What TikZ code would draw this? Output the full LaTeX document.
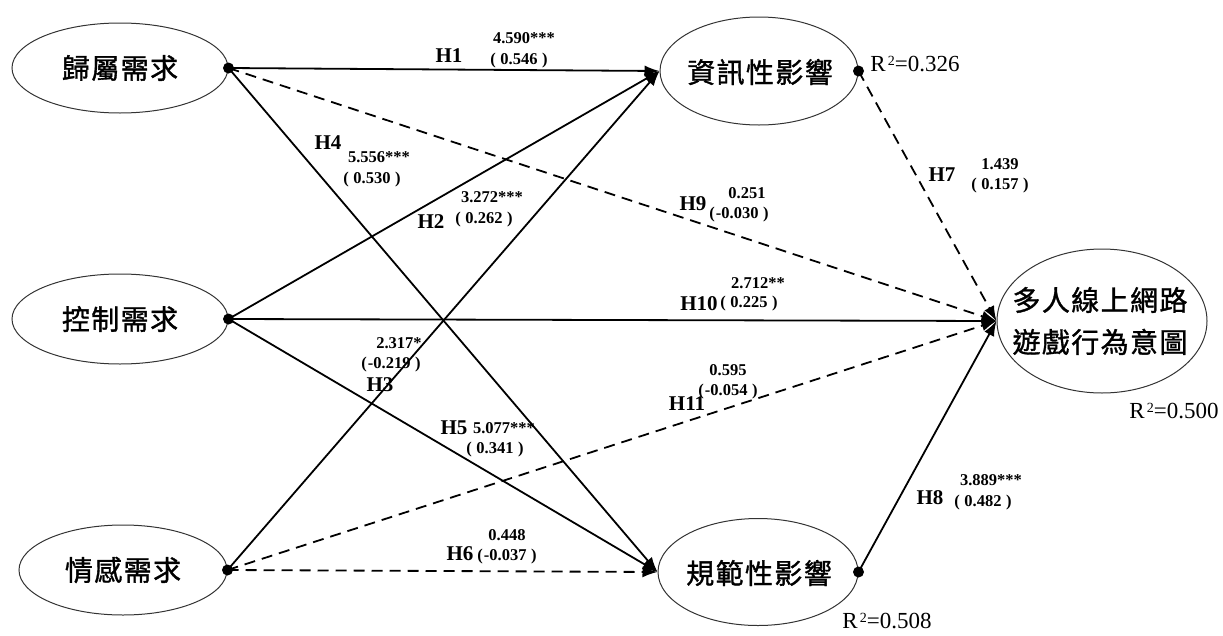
\documentclass[tikz,border=0pt]{standalone}
\usepackage{fontspec}
\setmainfont{Liberation Serif}
\newfontfamily\cjk[LetterSpace=5,FakeBold=1.2]{Noto Sans CJK TC}
\usetikzlibrary{shapes.geometric,arrows.meta}
\newcommand\myparen[1]{(\hspace{4.5pt}#1\hspace{4.5pt})}
\newcommand\rsqtext[1]{R\hspace{2pt}\raisebox{0.55ex}{\fontsize{14}{14}\selectfont 2}=#1}
\begin{document}
\begin{tikzpicture}[x=1pt,y=-1pt,
  construct/.style={draw=black!80, line width=1pt, ellipse, inner sep=0pt},
  cjktext/.style={font=\cjk\fontsize{28}{42}\selectfont, align=center, inner sep=0pt},
  sigpath/.style={line width=1.8pt, -{Latex[length=15pt,width=11pt]}},
  nsigpath/.style={sigpath, dash pattern=on 11pt off 7pt},
  hlab/.style={font=\bfseries\fontsize{21}{21}\selectfont, inner sep=0pt},
  num/.style={font=\bfseries\fontsize{16.5}{16.5}\selectfont, inner sep=0pt},
  rsq/.style={font=\fontsize{23}{23}\selectfont, inner sep=0pt},
  dotmark/.style={circle, fill=black, inner sep=0pt, minimum size=11pt}
]
\useasboundingbox (0,0) rectangle (1223,635);

% constructs
\node[construct, minimum width=216pt, minimum height=90pt] (belong) at (120,68) {};
\node[cjktext] (belongt) at (belong.center) {歸屬需求};
\node[construct, minimum width=216pt, minimum height=90pt] (control) at (120,319) {};
\node[cjktext] (controlt) at (control.center) {控制需求};
\node[construct, minimum width=208pt, minimum height=90pt] (affect) at (123,570) {};
\node[cjktext] (affectt) at (affect.center) {情感需求};
\node[construct, minimum width=198pt, minimum height=108pt] (info) at (759,71) {};
\node[cjktext] (infot) at (760,72) {資訊性影響};
\node[construct, minimum width=200pt, minimum height=107pt] (norm) at (758,572) {};
\node[cjktext] (normt) at (759,573) {規範性影響};
\node[construct, minimum width=210pt, minimum height=144pt] (intent) at (1102,321) {};
\node[cjktext] (intentt) at (1100,321) {多人線上網路\\遊戲行為意圖};

% source dots
\coordinate (bd) at (belong.east);
\coordinate (cd) at (control.east);
\coordinate (ad) at (affect.east);
\coordinate (id) at (info.east);
\coordinate (nd) at (norm.east);

% paths
\draw[sigpath] (bd) -- (info.west);
\draw[sigpath] (bd) -- (norm.west);
\draw[nsigpath] (bd) -- (intent.west);
\draw[sigpath] (cd) -- (info.west);
\draw[sigpath] (cd) -- (norm.west);
\draw[sigpath] (cd) -- (intent.west);
\draw[sigpath] (ad) -- (info.west);
\draw[nsigpath] (ad) -- (norm.west);
\draw[nsigpath] (ad) -- (intent.west);
\draw[nsigpath] (id) -- (intent.west);
\draw[sigpath] (nd) -- (intent.west);

\node[dotmark] (bdot) at (bd) {};
\node[dotmark] (cdot) at (cd) {};
\node[dotmark] (adot) at (ad) {};
\node[dotmark] (idot) at (id) {};
\node[dotmark] (ndot) at (nd) {};

% R squared
\node[rsq] (r1) at (915,64) {\rsqtext{0.326}};
\node[rsq] (r2) at (887,621) {\rsqtext{0.508}};
\node[rsq] (r3) at (1174,411) {\rsqtext{0.500}};

% labels
\node[hlab] (h1) at (449,56) {H1};
\node[num] (h1a) at (524,38) {4.590***};
\node[num] (h1b) at (519,61) {\myparen{0.546}};

\node[hlab] (h4) at (328,143) {H4};
\node[num] (h4a) at (379,157) {5.556***};
\node[num] (h4b) at (372,180) {\myparen{0.530}};

\node[num] (h2a) at (492,197) {3.272***};
\node[hlab] (h2) at (431,222) {H2};
\node[num] (h2b) at (484,220) {\myparen{0.262}};

\node[hlab] (h7) at (942,175) {H7};
\node[num] (h7a) at (1000,164) {1.439};
\node[num] (h7b) at (1000,186) {\myparen{0.157}};

\node[hlab] (h9) at (693,204) {H9};
\node[num] (h9a) at (747,193) {0.251};
\node[num] (h9b) at (739,215) {(\hspace{1pt}-0.030\hspace{4.5pt})};

\node[num] (h10a) at (758,283) {2.712**};
\node[hlab] (h10) at (699,304) {H10};
\node[num] (h10b) at (749,304) {\myparen{0.225}};

\node[num] (h3a) at (399,343) {2.317*};
\node[num] (h3b) at (391,365) {(\hspace{1pt}-0.219\hspace{4.5pt})};
\node[hlab] (h3) at (380,385) {H3};

\node[hlab] (h5) at (454,428) {H5};
\node[num] (h5a) at (504,428) {5.077***};
\node[num] (h5b) at (495,450) {\myparen{0.341}};

\node[num] (h6a) at (507,535) {0.448};
\node[hlab] (h6) at (460,554) {H6};
\node[num] (h6b) at (507,557) {(\hspace{1pt}-0.037\hspace{4.5pt})};

\node[num] (h11a) at (728,370) {0.595};
\node[num] (h11b) at (728,392) {(\hspace{1pt}-0.054\hspace{4.5pt})};
\node[hlab] (h11) at (687,404) {H11};

\node[hlab] (h8) at (930,498) {H8};
\node[num] (h8a) at (991,480) {3.889***};
\node[num] (h8b) at (983,503) {\myparen{0.482}};
\end{tikzpicture}
\end{document}
